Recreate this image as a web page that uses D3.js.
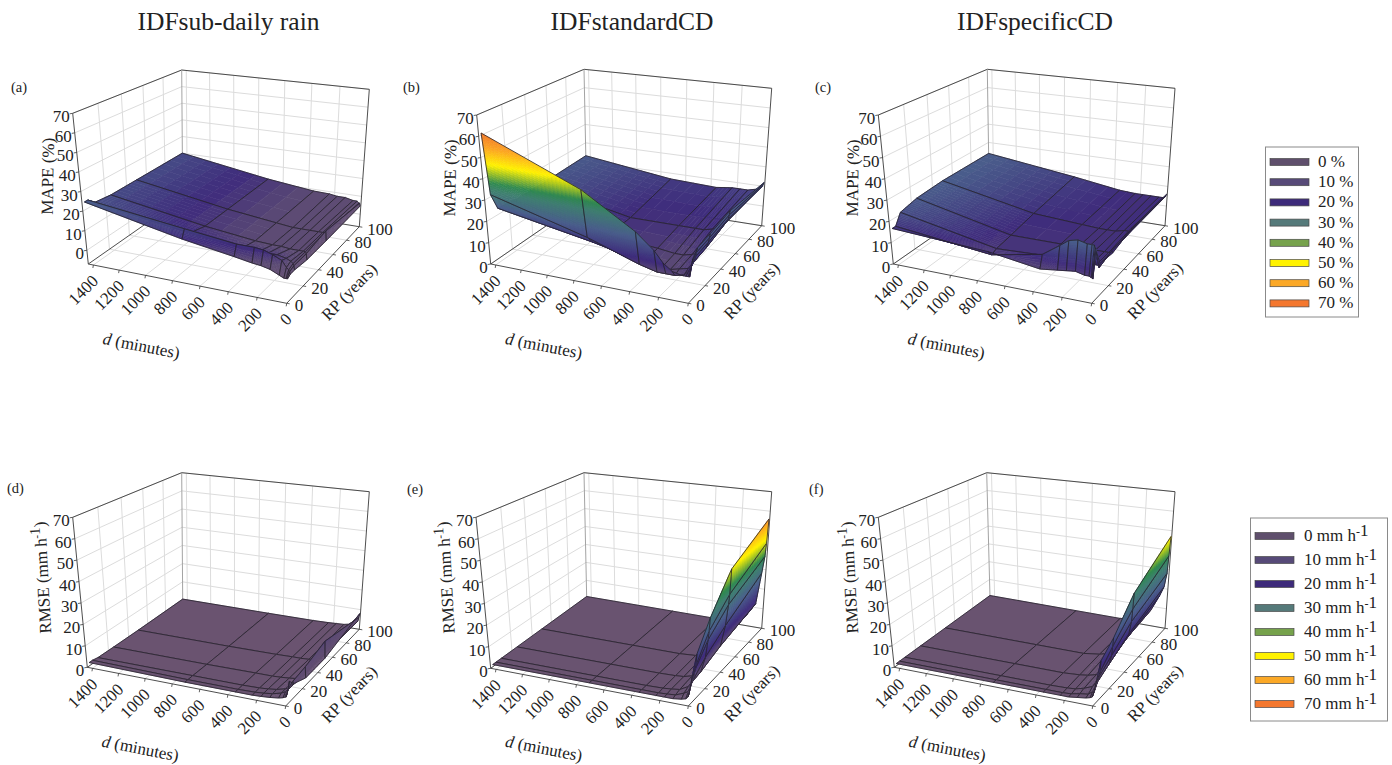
<!DOCTYPE html>
<html>
<head>
<meta charset="utf-8">
<title>IDF surfaces</title>
<script src="https://cdn.jsdelivr.net/npm/d3@7"></script>
<style>
body { margin: 0; background: #fff; }
text { font-family: "Liberation Serif", serif; fill: #222; }
</style>
</head>
<body>
<script>
// grid of the surfaces
var durations = [5, 10, 15, 30, 60, 120, 180, 240, 360, 720, 1440];
var returnPeriods = [2, 5, 10, 25, 50, 100];

// axis ticks
var dTicks = [0, 200, 400, 600, 800, 1000, 1200, 1400];
var rpTicks = [0, 20, 40, 60, 80, 100];
var zTicks = [0, 10, 20, 30, 40, 50, 60, 70];

var titles = ["IDFsub-daily rain", "IDFstandardCD", "IDFspecificCD"];
var panelLetters = ["(a)", "(b)", "(c)", "(d)", "(e)", "(f)"];
var legendValues = [0, 10, 20, 30, 40, 50, 60, 70];
var legendColors = ["#5f4f6c", "#574a78", "#3d2a7a", "#557a7a", "#76a24c", "#fff200", "#fba826", "#f4772e"];

// surface values, one row per return period, one column per duration
var mapeSub = [
	[4, 4, 4, 4, 5, 7, 8, 8.5, 10, 14, 24],
	[5, 6, 7, 8, 11, 13, 14.5, 15, 15, 18, 24],
	[5, 7, 8, 9, 10, 11, 11, 11, 11, 14, 21],
	[4, 7, 8, 8, 8, 8, 8.5, 8.5, 9, 12, 20],
	[4, 9, 8, 8, 8, 8, 8, 8, 9, 12, 20],
	[4.5, 6, 6, 7, 7, 8, 8, 8.7, 9, 12, 20]
];
var mapeStandard = [
	[11, 11, 11, 11, 11, 12, 15, 20, 27, 42, 61],
	[18, 16, 14, 12, 10, 9, 9, 9, 11, 19, 31],
	[21, 19, 17, 14, 11, 10, 9, 9, 10, 15, 23],
	[22, 20, 18, 15, 13, 11, 10, 10, 11, 13, 22],
	[24, 22, 20, 18, 16, 14, 13, 13, 13, 13, 22],
	[22, 21, 20, 19, 18, 17, 17, 17, 16, 17, 23]
];
var mapeSpecific = [
	[10, 10.5, 10.5, 11, 11, 12, 11.5, 11, 10, 13.5, 16],
	[22, 23, 24, 24, 24, 25, 24, 21, 15.5, 11, 16],
	[14, 12, 13, 13, 13, 14, 14, 14, 13, 12, 21],
	[13, 14, 13, 13, 13, 13, 13, 13, 13, 13, 23],
	[16, 15, 14, 14, 14, 13, 13, 13, 13.5, 15, 24],
	[16, 15, 14.5, 14, 14, 14, 14, 14, 14.5, 18, 24]
];
var rmseSub = [
	[4, 3, 3, 2.5, 2, 1.5, 1.2, 1, 1, 1, 1.5],
	[9, 6, 5, 4, 3, 2, 1.5, 1.2, 1, 1, 1.5],
	[6, 7, 5, 4, 3, 2, 1.5, 1.2, 1, 1, 1],
	[3, 8, 5, 3, 2, 1.5, 1.2, 1, 1, 0.8, 0.8],
	[3, 11, 5, 3, 2, 1.2, 1, 1, 0.8, 0.6, 0.6],
	[8, 6, 4, 3, 2, 1.2, 1, 0.8, 0.6, 0.5, 0.5]
];
var rmseStandard = [
	[6, 4, 3, 2, 1.5, 1, 1, 1, 1, 1, 1],
	[11, 8, 7, 4, 3, 1.5, 1.2, 1, 1, 1, 1],
	[19, 14, 12, 7, 4, 2, 1.5, 1.2, 1, 1, 1],
	[30, 24, 20, 12, 5, 2.5, 1.5, 1.2, 1, 1, 1],
	[45, 33, 28, 18, 8, 4, 2, 1.5, 1, 1, 1],
	[56, 43.5, 36.7, 28, 12, 6, 2.5, 1.5, 1, 1, 1]
];
var rmseSpecific = [
	[5, 4, 3, 2.5, 2, 1.5, 1, 1, 1, 1, 1],
	[9, 7, 5, 4, 2.5, 2, 1.2, 1, 1, 1, 1],
	[16, 11, 9, 6, 4, 2.5, 1.5, 1.2, 1, 1, 1],
	[21, 17, 13, 9, 6, 3, 2, 1.5, 1, 1, 1],
	[33.5, 26, 20, 14, 10, 5, 3, 2, 1, 1, 1],
	[47, 37, 28, 21, 16, 8, 4, 2, 1, 1, 1]
];

var surfaceStops = [0, 9, 14, 24, 33, 37, 46, 54, 62];
var surfaceColors = ["#6b5470", "#5c4b74", "#3f2c7c", "#4a5f8c", "#3f8070", "#2f8a50", "#fff200", "#fca522", "#f0702a"];
var colorScale = d3.scaleLinear().domain(surfaceStops).range(surfaceColors).clamp(true);

// screen position of the plot box: floor corners A B C D, then top corners A' D' C'
var panels = [
	{ values: mapeSub, ylabel: "MAPE (%)", zMin: -7, letter: [11, 92], box: { A: [88.3, 264], B: [286.7, 303.3], C: [359.3, 226.7], D: [182.7, 198], At: [72.7, 113.3], Dt: [181.7, 70], Ct: [369.3, 89.3] } },
	{ values: mapeStandard, ylabel: "MAPE (%)", zMin: 0, letter: [403, 92], box: { A: [490.7, 264], B: [688.3, 303.3], C: [761.7, 225.7], D: [586.7, 198], At: [476.7, 115], Dt: [584, 69.3], Ct: [771.7, 88.3] } },
	{ values: mapeSpecific, ylabel: "MAPE (%)", zMin: 0, letter: [815, 92], box: { A: [893.3, 264], B: [1091.7, 303.3], C: [1165, 225.7], D: [989.3, 197.3], At: [878.3, 115], Dt: [987.3, 69.3], Ct: [1175, 88.3] } },
	{ values: rmseSub, ylabel: "RMSE", zMin: 0, letter: [7, 493], box: { A: [87.3, 667.3], B: [285.7, 706], C: [359.3, 629.3], D: [182.7, 600], At: [72.7, 517.3], Dt: [181.7, 472.7], Ct: [369.3, 491.7] } },
	{ values: rmseStandard, ylabel: "RMSE", zMin: 0, letter: [407, 494], box: { A: [490.7, 668.3], B: [688.3, 706], C: [761.7, 628.3], D: [586.7, 598.3], At: [476, 517.3], Dt: [584, 472.7], Ct: [771.7, 491.7] } },
	{ values: rmseSpecific, ylabel: "RMSE", zMin: 0, letter: [809, 494], box: { A: [894.3, 667.3], B: [1092.7, 706], C: [1165, 628.3], D: [990, 597.3], At: [878.3, 517.3], Dt: [986.7, 472.7], Ct: [1175, 491.7] } }
];

var svg = d3.select("body").append("svg")
	.attr("width", 1392)
	.attr("height", 765);

// maps the unit square onto a quad: p00, p10, p11, p01
function squareToQuad(p0, p1, p2, p3) {
	var dx1 = p1[0] - p2[0], dx2 = p3[0] - p2[0], sx = p0[0] - p1[0] + p2[0] - p3[0];
	var dy1 = p1[1] - p2[1], dy2 = p3[1] - p2[1], sy = p0[1] - p1[1] + p2[1] - p3[1];
	var den = dx1 * dy2 - dx2 * dy1;
	var g = (sx * dy2 - dx2 * sy) / den;
	var h = (dx1 * sy - sx * dy1) / den;
	var a = p1[0] - p0[0] + g * p1[0], b = p3[0] - p0[0] + h * p3[0];
	var d = p1[1] - p0[1] + g * p1[1], e = p3[1] - p0[1] + h * p3[1];
	return function(u, w) {
		var q = g * u + h * w + 1;
		return [(a * u + b * w + p0[0]) / q, (d * u + e * w + p0[1]) / q];
	};
}

var line = d3.line();

function drawPanel(panel) {
	var box = panel.box;
	// the front top corner is never drawn, it only fixes the top plane
	var Bt = [
		box.At[0] + box.Ct[0] - box.Dt[0] + 1.2 * (box.B[0] - box.A[0] - box.C[0] + box.D[0]),
		box.At[1] + box.Ct[1] - box.Dt[1] + 1.2 * (box.B[1] - box.A[1] - box.C[1] + box.D[1])
	];
	var floor = squareToQuad(box.B, box.A, box.D, box.C);
	var top = squareToQuad(Bt, box.At, box.Dt, box.Ct);

	var dScale = d3.scaleLinear().domain([0, 1440]).range([0, 1]);
	var rpScale = d3.scaleLinear().domain([0, 100]).range([0, 1]);
	var zScale = d3.scaleLinear().domain([panel.zMin, 70]).range([0, 1]);

	function project(d, rp, z) {
		var f = floor(dScale(d), rpScale(rp));
		var t = top(dScale(d), rpScale(rp));
		var k = zScale(z);
		return [f[0] + (t[0] - f[0]) * k, f[1] + (t[1] - f[1]) * k];
	}

	var g = svg.append("g");
	var zLow = panel.zMin, zHigh = 70;

	// light grid on the floor and the two back walls
	var gridLines = [];
	dTicks.slice(1).forEach(function(d) {
		gridLines.push([project(d, 0, zLow), project(d, 100, zLow), project(d, 100, zHigh)]);
	});
	rpTicks.slice(1, 5).forEach(function(rp) {
		gridLines.push([project(0, rp, zLow), project(1440, rp, zLow), project(1440, rp, zHigh)]);
	});
	zTicks.forEach(function(z) {
		gridLines.push([project(1440, 0, z), project(1440, 100, z), project(0, 100, z)]);
	});
	g.selectAll("path.grid")
		.data(gridLines)
		.enter()
		.append("path")
		.attr("class", "grid")
		.attr("d", line)
		.attr("fill", "none")
		.attr("stroke", "#dcdcdc")
		.attr("stroke-width", 1);

	// box edges
	var edges = [
		[box.A, box.B], [box.B, box.C], [box.A, box.D], [box.D, box.C],
		[box.A, box.At], [box.At, box.Dt], [box.Dt, box.Ct], [box.C, box.Ct], [box.D, box.Dt]
	];
	g.selectAll("path.edge")
		.data(edges)
		.enter()
		.append("path")
		.attr("class", "edge")
		.attr("d", line)
		.attr("fill", "none")
		.attr("stroke", function(d, i) { return i == 8 ? "#999" : "#3a3a3a"; })
		.attr("stroke-width", 0.9);

	// surface, far cells first so nearer ones cover them
	var cells = [];
	for (var i = durations.length - 2; i >= 0; i--) {
		for (var j = returnPeriods.length - 2; j >= 0; j--) {
			cells.push({ i: i, j: j });
		}
	}
	var cellGroups = g.selectAll("g.cell")
		.data(cells)
		.enter()
		.append("g")
		.attr("class", "cell");

	cellGroups.each(function(c) {
		var d0 = durations[c.i], d1 = durations[c.i + 1];
		var r0 = returnPeriods[c.j], r1 = returnPeriods[c.j + 1];
		var v = panel.values;
		var z00 = v[c.j][c.i], z10 = v[c.j][c.i + 1], z01 = v[c.j + 1][c.i], z11 = v[c.j + 1][c.i + 1];
		var span = d3.max([z00, z10, z01, z11]) - d3.min([z00, z10, z01, z11]);
		var n = Math.min(24, Math.max(1, Math.ceil(span / 1.2)));

		function at(a, b) {
			var z = z00 * (1 - a) * (1 - b) + z10 * a * (1 - b) + z01 * (1 - a) * b + z11 * a * b;
			return { p: project(d0 + (d1 - d0) * a, r0 + (r1 - r0) * b, z), z: z };
		}

		// small pieces only carry the colour ramp across one cell
		var pieces = [];
		for (var a = n - 1; a >= 0; a--) {
			for (var b = n - 1; b >= 0; b--) {
				var q = [at(a / n, b / n), at((a + 1) / n, b / n), at((a + 1) / n, (b + 1) / n), at(a / n, (b + 1) / n)];
				pieces.push({ pts: q.map(function(o) { return o.p; }), z: d3.mean(q, function(o) { return o.z; }) });
			}
		}
		var cell = d3.select(this);
		cell.selectAll("path.piece")
			.data(pieces)
			.enter()
			.append("path")
			.attr("class", "piece")
			.attr("d", function(p) { return line(p.pts) + "Z"; })
			.attr("fill", function(p) { return colorScale(p.z); })
			.attr("stroke", function(p) { return colorScale(p.z); })
			.attr("stroke-width", 0.6);
		cell.append("path")
			.attr("d", line([at(0, 0).p, at(1, 0).p, at(1, 1).p, at(0, 1).p]) + "Z")
			.attr("fill", "none")
			.attr("stroke", "#26222c")
			.attr("stroke-width", 0.8);
	});

	// tick marks and labels
	var zTickData = zTicks.map(function(z) { return { v: z, p: project(1440, 0, z) }; });
	var dTickData = dTicks.map(function(d) { return { v: d, p: project(d, 0, zLow) }; });
	var rpTickData = rpTicks.map(function(r) { return { v: r, p: project(0, r, zLow) }; });

	g.selectAll("path.tick")
		.data(zTickData.map(function(t) { return [t.p, [t.p[0] - 3, t.p[1] + 0.5]]; })
			.concat(dTickData.map(function(t) { return [t.p, [t.p[0] - 0.5, t.p[1] + 3]]; }))
			.concat(rpTickData.map(function(t) { return [t.p, [t.p[0] + 3, t.p[1] + 0.5]]; })))
		.enter()
		.append("path")
		.attr("class", "tick")
		.attr("d", line)
		.attr("stroke", "#3a3a3a")
		.attr("stroke-width", 0.8);

	g.selectAll("text.zt")
		.data(zTickData)
		.enter()
		.append("text")
		.attr("class", "zt")
		.text(function(d) { return d.v; })
		.attr("x", function(d) { return d.p[0] - 3; })
		.attr("y", function(d) { return d.p[1] + 9; })
		.attr("text-anchor", "end")
		.attr("font-size", "17px");

	g.selectAll("text.dt")
		.data(dTickData)
		.enter()
		.append("text")
		.attr("class", "dt")
		.text(function(d) { return d.v; })
		.attr("text-anchor", "end")
		.attr("font-size", "17px")
		.attr("transform", function(d) {
			return "translate(" + (d.p[0] + 6) + "," + (d.p[1] + 17) + ") rotate(-45)";
		});

	g.selectAll("text.rt")
		.data(rpTickData)
		.enter()
		.append("text")
		.attr("class", "rt")
		.text(function(d) { return d.v; })
		.attr("x", function(d) { return d.p[0] + 8; })
		.attr("y", function(d) { return d.p[1] + 8; })
		.attr("font-size", "17px");

	// axis titles, placed from the box corners
	var dLabel = g.append("text")
		.attr("text-anchor", "middle")
		.attr("font-size", "17px")
		.attr("transform", "translate(" + (box.A[0] + 52) + "," + (box.B[1] + 48) + ") rotate(11)");
	dLabel.append("tspan").attr("font-style", "italic").text("d");
	dLabel.append("tspan").text(" (minutes)");

	g.append("text")
		.text("RP (years)")
		.attr("text-anchor", "middle")
		.attr("font-size", "17px")
		.attr("transform", "translate(" + (box.C[0] - 6) + "," + (box.C[1] + 69) + ") rotate(-46)");

	var isRmse = panel.ylabel == "RMSE";
	var yLabel = g.append("text")
		.attr("text-anchor", "middle")
		.attr("font-size", "17px")
		.attr("transform", "translate(" + (box.A[0] - (isRmse ? 39 : 35)) + "," + (box.At[1] + (isRmse ? 60 : 63)) + ") rotate(" + (isRmse ? -93 : -89) + ")");
	if (isRmse) {
		yLabel.append("tspan").text("RMSE (mm h");
		yLabel.append("tspan").attr("dy", -6).attr("font-size", "11px").text("-");
		yLabel.append("tspan").attr("font-size", "15px").text("1");
		yLabel.append("tspan").attr("dy", 6).text(")");
	} else {
		yLabel.text(panel.ylabel);
	}

	g.append("text")
		.text(panelLetters[panels.indexOf(panel)])
		.attr("x", panel.letter[0])
		.attr("y", panel.letter[1])
		.attr("font-size", "14.5px");
}

panels.forEach(drawPanel);

// column titles
var titleCenters = [228.5, 632, 1035];
svg.selectAll("text.title")
	.data(titles)
	.enter()
	.append("text")
	.attr("class", "title")
	.text(function(d) { return d; })
	.attr("x", function(d, i) { return titleCenters[i]; })
	.attr("y", 30)
	.attr("text-anchor", "middle")
	.attr("font-size", "25.5px");

// legends
function drawLegend(x, y, w, h, keyX, keyY, keyStep, labelX, unit) {
	var g = svg.append("g");
	g.append("rect")
		.attr("x", x)
		.attr("y", y)
		.attr("width", w)
		.attr("height", h)
		.attr("fill", "#fff")
		.attr("stroke", "#8a8a8a")
		.attr("stroke-width", 1);
	g.selectAll("rect.key")
		.data(legendValues)
		.enter()
		.append("rect")
		.attr("class", "key")
		.attr("x", keyX)
		.attr("y", function(d, i) { return keyY + i * keyStep - 3.5; })
		.attr("width", 39)
		.attr("height", 7)
		.attr("fill", function(d, i) { return legendColors[i]; })
		.attr("stroke", "#4a4a4a")
		.attr("stroke-width", 0.7);
	var labels = g.selectAll("text.leg")
		.data(legendValues)
		.enter()
		.append("text")
		.attr("class", "leg")
		.attr("x", labelX)
		.attr("y", function(d, i) { return keyY + i * keyStep + 5; })
		.attr("font-size", "17px");
	if (unit == "%") {
		labels.text(function(d) { return d + " %"; });
	} else {
		labels.append("tspan").text(function(d) { return d + " mm h"; });
		labels.append("tspan").attr("dy", -5).attr("font-size", "12px").text("-");
		labels.append("tspan").attr("font-size", "17px").text("1");
	}
}

drawLegend(1265.5, 147, 93, 170, 1270, 162, 20.2, 1318, "%");
drawLegend(1250.5, 518, 137, 203, 1255, 536, 24, 1304, "mm");
</script>
</body>
</html>
